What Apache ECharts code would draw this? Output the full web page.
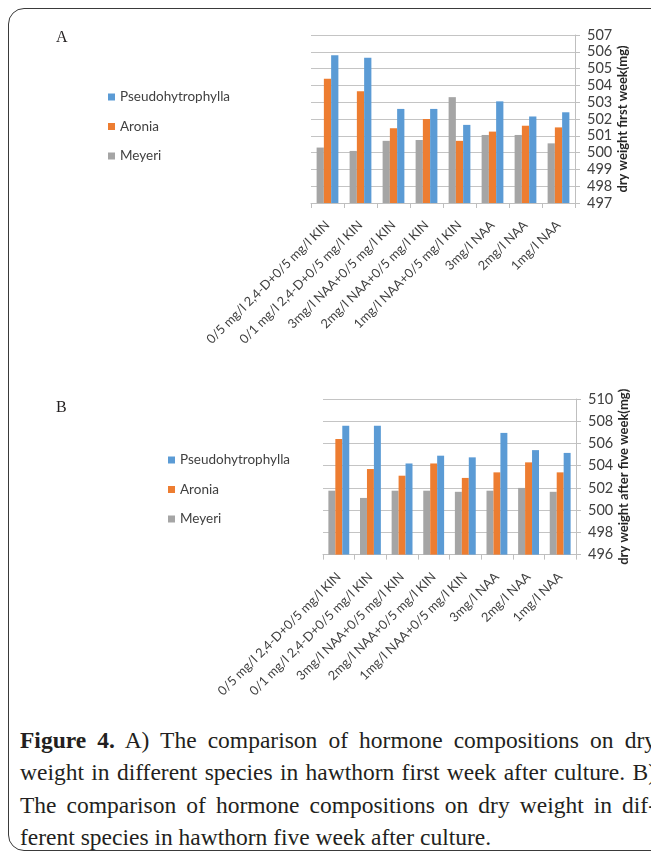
<!DOCTYPE html>
<html>
<head>
<meta charset="utf-8">
<script src="https://cdn.jsdelivr.net/npm/echarts@6/dist/echarts.min.js"></script>
<style>
html, body { margin: 0; padding: 0; background: #fff; }
#wrap { position: relative; width: 651px; height: 854px; overflow: hidden; }
#frame {
  position: absolute; left: 8px; top: 8px; width: 700px; height: 843px;
  border: 1px solid #3a3a3a; border-radius: 16px; box-sizing: border-box;
}
#chart { position: absolute; left: 0; top: 0; width: 651px; height: 700px; }
#caption {
  position: absolute; left: 20px; top: 724px; width: 636px;
  font-family: "Liberation Serif", "DejaVu Serif", serif; font-size: 23.5px;
  line-height: 32.3px; color: #231f20;
}
#caption .j { text-align: justify; text-align-last: justify; white-space: nowrap; }
</style>
</head>
<body>
<div id="wrap">
  <div id="frame"></div>
  <div id="chart"></div>
  <div id="caption">
    <div class="j"><b>Figure 4.</b> A) The comparison of hormone compositions on dry</div>
    <div class="j">weight in different species in hawthorn first week after culture. B)</div>
    <div class="j">The comparison of hormone compositions on dry weight in dif-</div>
    <div>ferent species in hawthorn five week after culture.</div>
  </div>
</div>
<script>
// 处理组合（两个图共用）
var categories = [
  "0/5 mg/l 2,4-D+0/5 mg/l KIN",
  "0/1 mg/l 2,4-D+0/5 mg/l KIN",
  "3mg/l NAA+0/5 mg/l KIN",
  "2mg/l NAA+0/5 mg/l KIN",
  "1mg/l NAA+0/5 mg/l KIN",
  "3mg/l NAA",
  "2mg/l NAA",
  "1mg/l NAA"
];
var legendNames = ["Pseudohytrophylla", "Aronia", "Meyeri"];

// A: first week
var meyeriA = [500.3, 500.1, 500.7, 500.75, 503.3, 501.05, 501.05, 500.55];
var aroniaA = [504.4, 503.65, 501.45, 502.0, 500.7, 501.25, 501.6, 501.5];
var pseudoA = [505.8, 505.65, 502.6, 502.6, 501.65, 503.05, 502.15, 502.4];
var yTicksA = [497, 507, 1];

// B: after five week
var meyeriB = [501.75, 501.1, 501.75, 501.75, 501.65, 501.75, 502.0, 501.65];
var aroniaB = [506.4, 503.7, 503.1, 504.2, 502.9, 503.4, 504.3, 503.4];
var pseudoB = [507.6, 507.6, 504.2, 504.9, 504.75, 506.95, 505.4, 505.15];
var yTicksB = [496, 510, 2];

var colors = { Meyeri: "#a5a5a5", Aronia: "#ed7d31", Pseudohytrophylla: "#5b9bd5" };
var font = "Lato, 'Open Sans', sans-serif";
var textColor = "#404040";

function makeX(idx) {
  return {
    gridIndex: idx,
    type: "category",
    data: categories,
    axisLine: { lineStyle: { color: "#bfbfbf" } },
    axisTick: { show: true, length: 5, lineStyle: { color: "#bfbfbf" } },
    axisLabel: {
      interval: 0, rotate: 45, margin: 20,
      fontSize: 12.8, color: textColor, fontFamily: font
    }
  };
}

function makeY(idx, ticks, name) {
  return {
    gridIndex: idx,
    type: "value",
    position: "right",
    min: ticks[0], max: ticks[1], interval: ticks[2],
    axisLine: { show: true, lineStyle: { color: "#bfbfbf" } },
    axisTick: { show: true, length: 5, lineStyle: { color: "#bfbfbf" } },
    splitLine: { lineStyle: { color: "#c4c4c4" } },
    axisLabel: { margin: 12, fontSize: 14.5, color: textColor, fontFamily: font },
    name: name,
    nameLocation: "middle",
    nameRotate: 90,
    nameGap: 41,
    nameTextStyle: { fontSize: 13, fontWeight: "bold", color: "#262626", fontFamily: font }
  };
}

function makeBar(name, data, idx) {
  return {
    name: name,
    type: "bar",
    xAxisIndex: idx,
    yAxisIndex: idx,
    data: data,
    barGap: 0,
    barCategoryGap: "34%",
    itemStyle: { color: colors[name] }
  };
}

function makeLegend(left, top) {
  return {
    orient: "vertical",
    left: left, top: top,
    data: legendNames,
    icon: "rect",
    itemWidth: 7, itemHeight: 7,
    itemGap: 15.5,
    textStyle: { fontSize: 13.5, color: textColor, fontFamily: font }
  };
}

var myChart = echarts.init(document.getElementById("chart"));
myChart.setOption({
  animation: false,
  title: [
    { text: "A", left: 51, top: 25, textStyle: { fontFamily: "Liberation Serif, serif", fontWeight: "normal", fontSize: 16, color: "#231f20" } },
    { text: "B", left: 51, top: 395, textStyle: { fontFamily: "Liberation Serif, serif", fontWeight: "normal", fontSize: 16, color: "#231f20" } }
  ],
  legend: [makeLegend(103, 85), makeLegend(163, 448)],
  grid: [
    { left: 311, top: 35, width: 264, height: 168 },
    { left: 323, top: 399, width: 253, height: 159 }
  ],
  xAxis: [makeX(0), makeX(1)],
  yAxis: [
    makeY(0, yTicksA, "dry weight first week(mg)"),
    makeY(1, yTicksB, "dry weight after five week(mg)")
  ],
  series: [
    makeBar("Meyeri", meyeriA, 0),
    makeBar("Aronia", aroniaA, 0),
    makeBar("Pseudohytrophylla", pseudoA, 0),
    makeBar("Meyeri", meyeriB, 1),
    makeBar("Aronia", aroniaB, 1),
    makeBar("Pseudohytrophylla", pseudoB, 1)
  ]
});
</script>
</body>
</html>
